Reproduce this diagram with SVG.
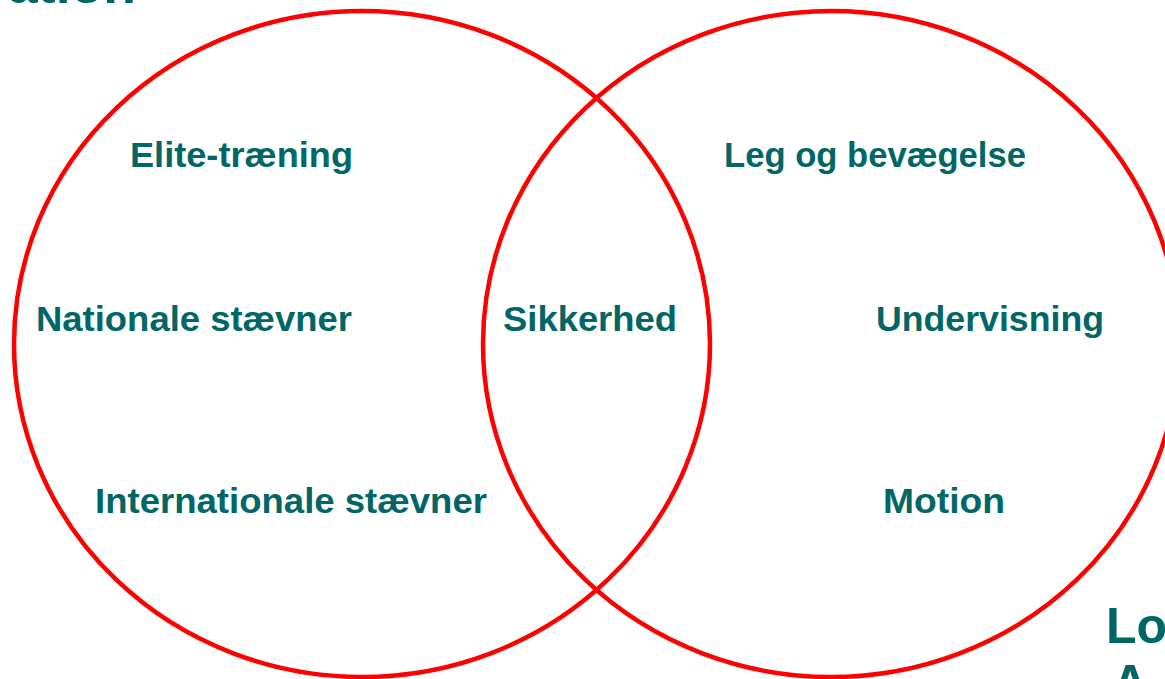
<svg xmlns="http://www.w3.org/2000/svg" width="1165" height="679" viewBox="0 0 1165 679">
<style>
.c{fill:none;stroke:#ff0000;stroke-width:4.5}
.t{font-family:"Liberation Sans",Arial,sans-serif;font-weight:bold;font-size:35px;fill:#006666}
.h{font-family:"Liberation Sans",Arial,sans-serif;font-weight:bold;font-size:50px;fill:#006666}
</style>
<rect width="1165" height="679" fill="#ffffff"/>
<text class="h" x="8" y="2.5" textLength="128" lengthAdjust="spacingAndGlyphs">ation</text>
<g id="left-circle"><ellipse class="c" cx="362" cy="344" rx="348" ry="333"/></g>
<g id="right-circle"><ellipse class="c" cx="831" cy="344" rx="348" ry="333"/></g>
<g id="elite"><text class="t" x="130" y="167" textLength="223" lengthAdjust="spacingAndGlyphs">Elite-træning</text></g>
<g id="nationale"><text class="t" x="36" y="331" textLength="316" lengthAdjust="spacingAndGlyphs">Nationale stævner</text></g>
<g id="internationale"><text class="t" x="95" y="513" textLength="392" lengthAdjust="spacingAndGlyphs">Internationale stævner</text></g>
<g id="sikkerhed"><text class="t" x="503" y="331" textLength="174" lengthAdjust="spacingAndGlyphs">Sikkerhed</text></g>
<g id="leg"><text class="t" x="724" y="167" textLength="302" lengthAdjust="spacingAndGlyphs">Leg og bevægelse</text></g>
<g id="undervisning"><text class="t" x="876" y="331" textLength="228" lengthAdjust="spacingAndGlyphs">Undervisning</text></g>
<g id="motion"><text class="t" x="883" y="513" textLength="122" lengthAdjust="spacingAndGlyphs">Motion</text></g>
<g id="lokal"><text class="h" x="1106" y="643">Lo</text><text class="h" x="1112" y="700">A</text></g>
<g id="connectors"></g>
</svg>
